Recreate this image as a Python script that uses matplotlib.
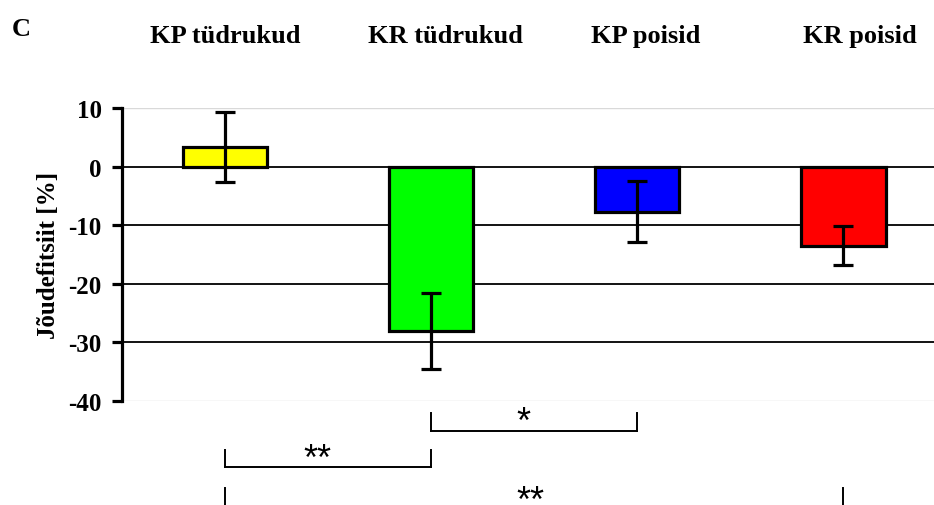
import numpy as np
import matplotlib.pyplot as plt

groups = ["KP tüdrukud", "KR tüdrukud", "KP poisid", "KR poisid"]
means = [3.4, -28.0, -7.7, -13.5]
errors = [6.0, 6.5, 5.2, 3.3]
colors = ["#ffff00", "#00ff00", "#0000ff", "#ff0000"]
yticks = [10, 0, -10, -20, -30, -40]
dark_lines = [0, -10, -20, -30]

# significance brackets: (group a, group b, y of line, y of tick top, y of label, label)
sig_pairs = [(1, 2, -45.2, -42.0, -43.7, "*"),
             (0, 1, -51.2, -48.4, -50.0, "**"),
             (0, 3, None, -54.8, -57.1, "**")]
label_shift = [-0.05, -0.05, -0.02]

plt.rcParams['font.family'] = ['Liberation Serif', 'DejaVu Serif']
plt.rcParams['font.weight'] = 'bold'

fig = plt.figure(figsize=(9.34, 5.06), dpi=100)
ax = fig.add_axes([0.1306, 0.2055, 0.8694, 0.5791])

x = np.arange(len(groups)) + 0.5
ax.bar(x, means, width=0.41, color=colors, edgecolor='black', linewidth=2.3, zorder=3)
ax.errorbar(x, means, yerr=errors, fmt='none', ecolor='black', elinewidth=2.3,
            capsize=7, capthick=2.3, zorder=4)

for v in yticks:
    if v in dark_lines:
        ax.axhline(v, color='black', lw=1.3, zorder=1)
    else:
        ax.axhline(v, color='#d9d9d9', lw=1.0, zorder=1)

ax.set_xlim(0, 3.94)
ax.set_ylim(-40, 10)
ax.set_yticks(yticks)
ax.set_yticklabels([str(v) for v in yticks], fontsize=18, fontweight='bold')
ax.set_xticks([])
for s in ['top', 'right', 'bottom']:
    ax.spines[s].set_visible(False)
ax.spines['left'].set_linewidth(2.3)
ax.tick_params(axis='y', length=7.5, width=2.3, pad=7)
ax.set_ylabel("Jõudefitsiit [%]", fontsize=18, fontweight='bold', labelpad=6)

# group titles above the plot
title_x = [0.5, 1.57, 2.54, 3.58]
for tx, name in zip(title_x, groups):
    ax.text(tx, 1.2253, name, transform=ax.get_xaxis_transform(), ha='center',
            va='baseline', fontsize=19, fontweight='bold')
fig.text(0.0128, 0.929, "C", fontsize=19, fontweight='bold', va='baseline')

# significance brackets below the axis
for (a, b, ly, ty, lab_y, lab), dx in zip(sig_pairs, label_shift):
    xa, xb = x[a], x[b]
    bottom = ly if ly is not None else -58.5
    ax.plot([xa, xa], [ty, bottom], color='black', lw=1.4, clip_on=False)
    ax.plot([xb, xb], [ty, bottom], color='black', lw=1.4, clip_on=False)
    if ly is not None:
        ax.plot([xa, xb], [ly, ly], color='black', lw=1.4, clip_on=False)
    ax.text((xa + xb) / 2 + dx, lab_y, lab, ha='center', va='center', fontsize=26,
            family='Liberation Sans', fontweight='normal', clip_on=False)

fig.savefig("out.png", dpi=100)
